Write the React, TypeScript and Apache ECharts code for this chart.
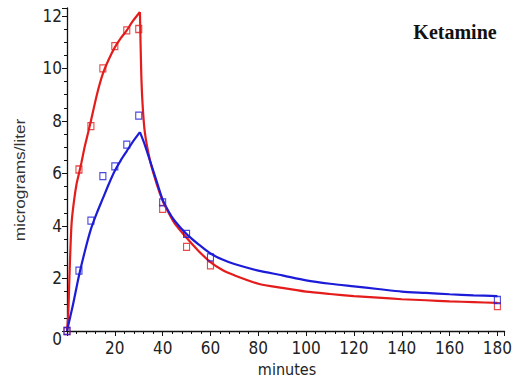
import React, { useEffect, useRef } from "react";
import * as echarts from "echarts";

// Sampling times (minutes) and observed concentrations (micrograms/liter)
const sampleMinutes = [0, 5, 10, 15, 20, 25, 30, 40, 50, 60, 180];
const redObserved = [0, 6.15, 7.8, 10.0, 10.85, 11.45, 11.5, 4.65, 3.2, 2.5, 0.95];
const blueObserved = [0, 2.3, 4.2, 5.9, 6.27, 7.1, 8.2, 4.9, 3.7, 2.8, 1.18];

// Fitted model curves: infusion phase and decay phase
const redRiseMinutes = [0, 0.5, 1, 1.5, 2, 3, 4, 5, 6, 7.5, 10, 12.5, 15, 17.5, 20, 22.5, 25, 27.5, 30.5];
const redRiseValues = [0, 0.6, 2.0, 3.3, 4.2, 5.0, 5.6, 6.0, 6.4, 7.05, 8.0, 9.0, 9.8, 10.35, 10.8, 11.15, 11.45, 11.8, 12.15];
const redDecayMinutes = [30.5, 31, 31.5, 32.5, 34.7, 37.5, 40, 42.5, 45, 50, 55, 60, 65, 70, 80, 90, 100, 110, 120, 130, 140, 150, 160, 170, 180];
const redDecayValues = [12.15, 10.0, 8.8, 7.6, 6.5, 5.6, 4.96, 4.5, 4.1, 3.55, 3.05, 2.62, 2.32, 2.12, 1.8, 1.64, 1.5, 1.41, 1.33, 1.27, 1.21, 1.17, 1.13, 1.1, 1.07];
const blueRiseMinutes = [0, 2.5, 5, 7.5, 10, 12.5, 15, 17.5, 20, 22.5, 25, 27.5, 30.5];
const blueRiseValues = [0, 1.0, 2.1, 3.05, 3.88, 4.5, 5.05, 5.6, 6.1, 6.5, 6.85, 7.2, 7.57];
const blueDecayMinutes = [30.5, 32.5, 35, 37.5, 40, 42.5, 45, 50, 55, 60, 65, 70, 80, 90, 100, 110, 120, 130, 140, 150, 160, 170, 180];
const blueDecayValues = [7.57, 7.1, 6.4, 5.7, 5.0, 4.55, 4.2, 3.69, 3.3, 2.95, 2.72, 2.55, 2.3, 2.12, 1.93, 1.8, 1.7, 1.6, 1.5, 1.45, 1.4, 1.36, 1.33];

const titleText = "Ketamine";
const yTitle = "micrograms/liter";
const xTitle = "minutes";

const RED = "#e41c1c";
const BLUE = "#1c1cd8";
const NARROW = "'Liberation Sans Narrow', 'DejaVu Sans Condensed', 'Liberation Sans', sans-serif";

const zip = (xs: number[], ys: number[]) => xs.map((x, i) => [x, ys[i]]);

const curve = (xs: number[], ys: number[], color: string) => ({
  type: "line",
  data: zip(xs, ys),
  symbol: "none",
  smooth: 0.25,
  lineStyle: { color, width: 2.2 },
  z: 2,
});

const samples = (ys: number[], color: string) => ({
  type: "scatter",
  data: zip(sampleMinutes, ys),
  symbol: "rect",
  symbolSize: [6, 7],
  itemStyle: { color: "rgba(255,255,255,0)", borderColor: color, borderWidth: 1.2 },
  z: 3,
});

export default function App() {
  const ref = useRef<HTMLDivElement>(null);
  useEffect(() => {
    document.body.style.margin = "0";
    if (!ref.current) return;
    const chart = echarts.init(ref.current, undefined, { renderer: "svg" });
    const labelStyle = { fontFamily: NARROW, fontSize: 17, color: "#222" };
    chart.setOption({
      animation: false,
      backgroundColor: "#fff",
      grid: { left: 67, right: 10, top: 8, bottom: 50, containLabel: false },
      xAxis: {
        type: "value",
        min: 0,
        max: 183,
        interval: 20,
        axisLine: { show: true, onZero: false, lineStyle: { color: "#111", width: 1.3 } },
        axisTick: { show: true, length: 5, lineStyle: { color: "#111" } },
        minorTick: { show: true, splitNumber: 5, length: 3, lineStyle: { color: "#111" } },
        splitLine: { show: false },
        axisLabel: { ...labelStyle, margin: 8, showMinLabel: false, showMaxLabel: false },
      },
      yAxis: {
        type: "value",
        min: 0,
        max: 12.3,
        interval: 2,
        axisLine: { show: true, onZero: false, lineStyle: { color: "#111", width: 1.3 } },
        axisTick: { show: true, length: 5, lineStyle: { color: "#111" } },
        minorTick: { show: true, splitNumber: 4, length: 3, lineStyle: { color: "#111" } },
        splitLine: { show: false },
        axisLabel: {
          ...labelStyle,
          margin: 5,
          showMaxLabel: false,
          formatter: (v: number) => (v === 0 ? "{z|0}" : String(v)),
          rich: { z: { ...labelStyle, padding: [16, 0, 0, 0] } },
        },
      },
      series: [
        curve(redRiseMinutes, redRiseValues, RED),
        curve(redDecayMinutes, redDecayValues, RED),
        curve(blueRiseMinutes, blueRiseValues, BLUE),
        curve(blueDecayMinutes, blueDecayValues, BLUE),
        samples(redObserved, RED),
        samples(blueObserved, BLUE),
      ],
      graphic: [
        {
          type: "text",
          x: 455,
          y: 32,
          style: {
            text: titleText,
            font: "bold 20px 'Liberation Serif', 'DejaVu Serif', serif",
            fill: "#111",
            textAlign: "center",
            textVerticalAlign: "middle",
          },
        },
        {
          type: "text",
          x: 287,
          y: 369,
          style: {
            text: xTitle,
            font: "16px " + NARROW,
            fill: "#222",
            textAlign: "center",
            textVerticalAlign: "middle",
          },
        },
        {
          type: "text",
          x: 19,
          y: 180,
          rotation: Math.PI / 2,
          scaleX: 1.15,
          style: {
            text: yTitle,
            font: "15px 'Liberation Sans', Arial, sans-serif",
            fill: "#333",
            textAlign: "center",
            textVerticalAlign: "middle",
          },
        },
      ],
    });
    return () => chart.dispose();
  }, []);
  return <div ref={ref} style={{ width: 515, height: 381 }} />;
}
